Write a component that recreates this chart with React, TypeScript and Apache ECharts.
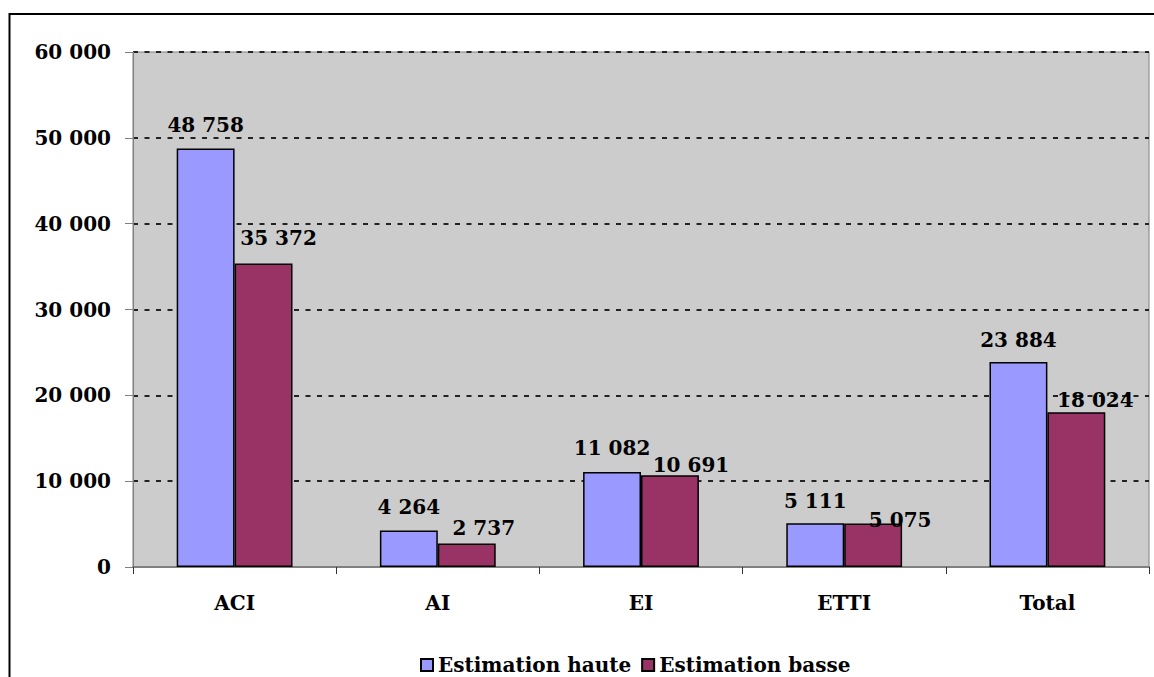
import React, { useEffect, useRef } from "react";
import * as echarts from "echarts";

const categories = ["ACI", "AI", "EI", "ETTI", "Total"];
const seriesNames = ["Estimation haute", "Estimation basse"];
const hauteValues = [48758, 4264, 11082, 5111, 23884];
const basseValues = [35372, 2737, 10691, 5075, 18024];
const yTicks = { min: 0, max: 60000, interval: 10000 };

// label nudges (px) for each point, as placed in the original
const hauteLabelShift = [
  [0, -13],
  [0, -13],
  [0, -14],
  [0, -12],
  [0, -12],
];
const basseLabelShift = [
  [15, -15],
  [17, -6],
  [21, 0],
  [27, 7],
  [19, -2],
];

const FONT = "'DejaVu Serif', serif";

const fmt = (v: number) =>
  String(v).replace(/\B(?=(\d{3})+(?!\d))/g, " ");

export default function App() {
  const ref = useRef<HTMLDivElement>(null);
  useEffect(() => {
    if (!ref.current) return;
    const chart = echarts.init(ref.current, null, { renderer: "svg" });
    const labelBase = {
      show: true,
      position: "top",
      distance: 0,
      fontFamily: FONT,
      fontWeight: "bold",
      fontSize: 20,
      color: "#000",
      formatter: (p: any) => fmt(p.value),
    };
    const mk = (vals: number[], shifts: number[][]) =>
      vals.map((v, i) => ({
        value: v,
        label: { offset: shifts[i] },
      }));
    chart.setOption({
      animation: false,
      backgroundColor: "#fff",
      graphic: [
        {
          type: "rect",
          shape: { x: 9.5, y: 14, width: 1200, height: 700 },
          style: { fill: "none", stroke: "#000", lineWidth: 2 },
          z: 100,
        },
      ],
      grid: {
        left: 133,
        top: 52,
        right: 5,
        bottom: 110,
        show: true,
        backgroundColor: "#CCCCCC",
        borderColor: "#808080",
        borderWidth: 1,
      },
      legend: {
        left: 420,
        top: 655,
        padding: 0,
        itemWidth: 12,
        itemHeight: 12,
        itemGap: 10,
        icon: "rect",
        textStyle: {
          fontFamily: FONT,
          fontWeight: "bold",
          fontSize: 20,
          color: "#000",
        },
        data: seriesNames,
      },
      xAxis: {
        type: "category",
        data: categories,
        axisLine: { show: true, lineStyle: { color: "#808080", width: 2 } },
        axisTick: {
          show: true,
          length: 7,
          alignWithLabel: false,
          lineStyle: { color: "#333", width: 1 },
        },
        axisLabel: {
          margin: 26,
          fontFamily: FONT,
          fontWeight: "bold",
          fontSize: 20,
          color: "#000",
        },
      },
      yAxis: {
        type: "value",
        min: yTicks.min,
        max: yTicks.max,
        interval: yTicks.interval,
        axisLine: { show: true, lineStyle: { color: "#808080", width: 1 } },
        axisTick: {
          show: true,
          length: 8,
          lineStyle: { color: "#808080", width: 1 },
        },
        splitLine: {
          show: true,
          lineStyle: { color: "#222", width: 2, type: [5, 6.5] },
        },
        axisLabel: {
          margin: 22,
          fontFamily: FONT,
          fontWeight: "bold",
          fontSize: 20,
          color: "#000",
          formatter: (v: number) => fmt(v),
        },
      },
      series: [
        {
          name: seriesNames[0],
          type: "bar",
          data: mk(hauteValues, hauteLabelShift),
          barGap: "0%",
          barCategoryGap: "43%",
          itemStyle: { color: "#9999FF", borderColor: "#000", borderWidth: 1.5 },
          label: labelBase,
        },
        {
          name: seriesNames[1],
          type: "bar",
          data: mk(basseValues, basseLabelShift),
          barGap: "0%",
          barCategoryGap: "43%",
          itemStyle: { color: "#993366", borderColor: "#000", borderWidth: 1.5 },
          label: labelBase,
        },
      ],
    });
    return () => chart.dispose();
  }, []);
  return (
    <div
      ref={ref}
      style={{ position: "fixed", left: 0, top: 0, width: 1154, height: 677 }}
    />
  );
}
